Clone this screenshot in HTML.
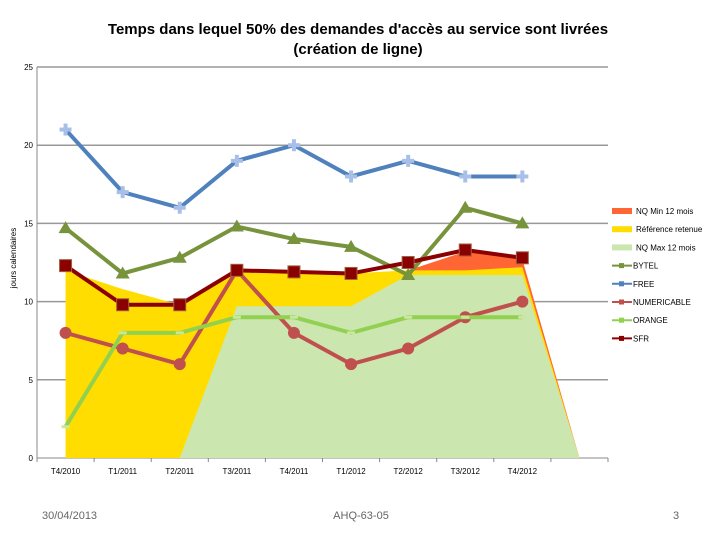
<!DOCTYPE html>
<html><head><meta charset="utf-8"><style>
body{margin:0;background:#fff;width:720px;height:540px;overflow:hidden;font-family:"Liberation Sans",sans-serif}
svg text{font-family:"Liberation Sans",sans-serif}
</style></head><body>
<svg id="c" width="720" height="540"></svg>
<script>
const categories=["T4/2010","T1/2011","T2/2011","T3/2011","T4/2011","T1/2012","T2/2012","T3/2012","T4/2012",""];
const nqMin=[0,0,0,0,0,0,12,13.2,12.7,0];
const reference=[12,10.8,9.8,12,11.8,11.8,12,12,12.2,0];
const nqMax=[0,0,0,9.7,9.7,9.7,11.7,11.7,11.7,0];
const bytel=[14.7,11.8,12.8,14.8,14,13.5,11.7,16,15];
const free=[21,17,16,19,20,18,19,18,18];
const numericable=[8,7,6,12,8,6,7,9,10];
const orange=[2,8,8,9,9,8,9,9,9];
const sfr=[12.3,9.8,9.8,12,11.9,11.8,12.5,13.3,12.8];
const yTicks=[0,5,10,15,20,25];
const NS="http://www.w3.org/2000/svg";
const svg=document.getElementById('c');
const X0=37,X1=608,Y0=458,Y25=67;
const slot=(X1-X0)/categories.length;
const x=i=>X0+slot*(i+0.5);
const y=v=>Y0-(Y0-Y25)*v/25;
function mk(t,a,p){const e=document.createElementNS(NS,t);for(const k in a)e.setAttribute(k,a[k]);(p||svg).appendChild(e);return e;}
// gridlines
yTicks.forEach(v=>{
 const l=mk('line',{x1:X0,x2:X1,y1:y(v),y2:y(v),stroke:v===0?'#888':'#999','stroke-width':v===0?1:1.5});
 
 
 const t=mk('text',{x:X0-4,y:y(v)+3,'text-anchor':'end','font-size':8,fill:'#000'});t.textContent=v;
 
 
});
mk('line',{x1:X0,x2:X0,y1:Y25,y2:Y0,stroke:'#888'});
for(let i=0;i<=categories.length;i++)mk('line',{x1:X0+slot*i,x2:X0+slot*i,y1:Y0,y2:Y0+4,stroke:'#888'});
categories.forEach((c,i)=>{if(!c)return;const t=mk('text',{x:x(i),y:Y0+16,'text-anchor':'middle','font-size':8});t.textContent=c;
 
 });
function area(vals,col,name){
 let d='M'+x(0)+','+Y0;vals.forEach((v,i)=>d+=' L'+x(i)+','+y(v));d+=' L'+x(vals.length-1)+','+Y0+'Z';
 const p=mk('path',{d:d,fill:col});
 
 
}
area(nqMin,'#FF6633','area-nq-min');
area(reference,'#FFDD00','area-reference');
area(nqMax,'#CCE6B0','area-nq-max');
function line(vals,col,name,marker){
 const g=mk('g',{});
 
 
 mk('polyline',{points:vals.map((v,i)=>x(i)+','+y(v)).join(' '),fill:'none',stroke:col,'stroke-width':4,'stroke-linejoin':'round'},g);
 vals.forEach((v,i)=>{const cx=x(i),cy=y(v);
  if(marker==='tri')mk('polygon',{points:`${cx},${cy-7} ${cx-7},${cy+5} ${cx+7},${cy+5}`,fill:col},g);
  else if(marker==='sq')mk('rect',{x:cx-6,y:cy-6,width:12,height:12,fill:col,stroke:'#a06040'},g);
  else if(marker==='circ')mk('circle',{cx:cx,cy:cy,r:6,fill:col},g);
  else if(marker==='plus'){mk('rect',{x:cx-6,y:cy-2,width:12,height:4,fill:'#a8c0e8'},g);mk('rect',{x:cx-2,y:cy-6,width:4,height:12,fill:'#a8c0e8'},g);}
  else if(marker==='dash')mk('rect',{x:cx-4,y:cy-1.5,width:8,height:3,fill:'#c8e8a0'},g);
 });
}
line(free,'#4F81BD','series-free','plus');
line(bytel,'#77933C','series-bytel','tri');
line(numericable,'#C0504D','series-numericable','circ');
line(orange,'#92D050','series-orange','dash');
line(sfr,'#8B0000','series-sfr','sq');
// legend
const leg=[['NQ Min 12 mois','#FF6633','a'],['Référence retenue','#FFDD00','a'],['NQ Max 12 mois','#CCE6B0','a'],['BYTEL','#77933C','l'],['FREE','#4F81BD','l'],['NUMERICABLE','#C0504D','l'],['ORANGE','#92D050','l'],['SFR','#8B0000','l']];
leg.forEach((L,i)=>{const yy=211+i*18.2;const g=mk('g',{});
 
 
 if(L[2]==='a')mk('rect',{x:612,y:yy-3,width:20,height:6,fill:L[1]},g);
 else{mk('line',{x1:612,x2:632,y1:yy,y2:yy,stroke:L[1],'stroke-width':2},g);mk('rect',{x:619,y:yy-2.5,width:5,height:5,fill:L[1]},g);}
 const t=mk('text',{x:L[2]==='a'?636:633,y:yy+3,'font-size':8},g);t.textContent=L[0];});
// titles
const t1=mk('text',{x:358,y:34,'text-anchor':'middle','font-size':15,'font-weight':'bold'});t1.textContent="Temps dans lequel 50% des demandes d'accès au service sont livrées";


const t2=mk('text',{x:358,y:54,'text-anchor':'middle','font-size':15,'font-weight':'bold'});t2.textContent="(création de ligne)";


const yt=mk('text',{x:0,y:0,'text-anchor':'middle','font-size':8,transform:'translate(16,258) rotate(-90)'});yt.textContent="jours calendaires";


[['30/04/2013',42,'start','footer-date'],['AHQ-63-05',361,'middle','footer-reference'],['3',676,'middle','page-number']].forEach(f=>{const t=mk('text',{x:f[1],y:519,'text-anchor':f[2],'font-size':11,fill:'#666'});t.textContent=f[0];
 
 });
</script>
</body></html>
